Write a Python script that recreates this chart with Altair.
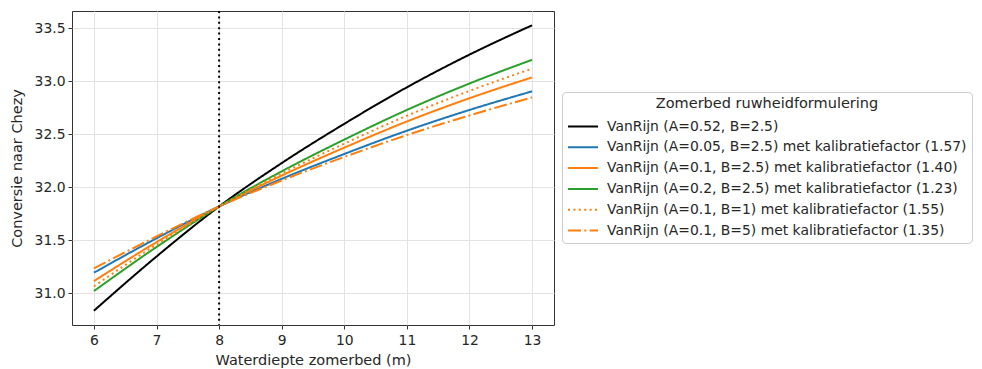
import altair as alt
import pandas as pd

depth = [6, 7, 8, 9, 10, 11, 12, 13]

labels = [
    "VanRijn (A=0.52, B=2.5)",
    "VanRijn (A=0.05, B=2.5) met kalibratiefactor (1.57)",
    "VanRijn (A=0.1, B=2.5) met kalibratiefactor (1.40)",
    "VanRijn (A=0.2, B=2.5) met kalibratiefactor (1.23)",
    "VanRijn (A=0.1, B=1) met kalibratiefactor (1.55)",
    "VanRijn (A=0.1, B=5) met kalibratiefactor (1.35)",
]

s_black = [30.833, 31.345, 31.818, 32.228, 32.599, 32.944, 33.253, 33.530]
s_blue = [31.192, 31.517, 31.818, 32.079, 32.314, 32.534, 32.730, 32.906]
s_orange = [31.113, 31.481, 31.818, 32.110, 32.374, 32.621, 32.841, 33.038]
s_green = [31.019, 31.435, 31.818, 32.150, 32.450, 32.730, 32.980, 33.204]
s_dotted = [31.063, 31.458, 31.818, 32.130, 32.412, 32.675, 32.910, 33.120]
s_dashdot = [31.233, 31.535, 31.818, 32.064, 32.286, 32.493, 32.678, 32.849]

series = [s_black, s_blue, s_orange, s_green, s_dotted, s_dashdot]
colors = ["#000000", "#1f77b4", "#ff7f0e", "#2ca02c", "#ff7f0e", "#ff7f0e"]
dashes = [[1, 0], [1, 0], [1, 0], [1, 0], [2, 3.4], [13, 3.3, 2, 3.3]]

x_ticks = [6, 7, 8, 9, 10, 11, 12, 13]
y_ticks = [31.0, 31.5, 32.0, 32.5, 33.0, 33.5]
ref_depth = [8]

rows = []
for i, (lab, vals) in enumerate(zip(labels, series)):
    for d, v in zip(depth, vals):
        rows.append({"depth": d, "C": v, "serie": lab, "order": i})
df = pd.DataFrame(rows)

FONT = "DejaVu Sans"
FS = 13.9
FT = 14.5
FL = 13.9

xscale = alt.Scale(domain=[5.65, 13.35], nice=False, zero=False)
yscale = alt.Scale(domain=[30.698, 33.665], nice=False, zero=False)

lines = alt.Chart(df).mark_line(strokeWidth=2, interpolate="monotone").encode(
    x=alt.X("depth:Q", scale=xscale,
            axis=alt.Axis(title="Waterdiepte zomerbed (m)", values=x_ticks, format="d",
                          titlePadding=7, labelPadding=4)),
    y=alt.Y("C:Q", scale=yscale,
            axis=alt.Axis(title="Conversie naar Chezy", values=y_ticks, format=".1f",
                          titlePadding=10)),
    color=alt.Color("serie:N", scale=alt.Scale(domain=labels, range=colors),
                    title="Zomerbed ruwheidformulering",
                    legend=alt.Legend(orient="none", legendX=490, legendY=81)),
    strokeDash=alt.StrokeDash("serie:N", scale=alt.Scale(domain=labels, range=dashes),
                              title="Zomerbed ruwheidformulering"),
    order=alt.Order("order:Q"),
)

rule = alt.Chart(pd.DataFrame({"depth": ref_depth})).mark_rule(
    color="black", strokeWidth=2, strokeDash=[2, 3.4]
).encode(x=alt.X("depth:Q", scale=xscale))

chart = alt.layer(lines, rule).properties(
    width=482, height=314,
    autosize=alt.AutoSizeParams(type="none"),
    padding={"left": 64, "top": 3, "right": 420, "bottom": 44},
).configure(
    font=FONT,
).configure_view(
    stroke="#333333", strokeWidth=1,
).configure_axis(
    grid=True, gridColor="#e3e3e3", gridWidth=1,
    domain=False,
    tickColor="#333333", tickSize=4, tickWidth=1,
    labelFont=FONT, labelFontSize=FS, labelColor="#262626", labelPadding=3,
    titleFont=FONT, titleFontSize=FT, titleFontWeight="normal", titleColor="#262626",
).configure_legend(
    titleFont=FONT, titleFontSize=FT, titleFontWeight="normal", titleColor="#262626",
    titleAnchor="middle", titlePadding=7, titleLimit=1000,
    labelFont=FONT, labelFontSize=FL, labelColor="#262626", labelOffset=24,
    labelLimit=1000,
    symbolType="M-1,0H3.2857", symbolSize=196, symbolStrokeWidth=2,
    rowPadding=5.8, padding=5,
    fillColor="white", strokeColor="#cccccc", cornerRadius=4,
)

chart.save("out.html", embed_options={"renderer": "svg", "actions": False})
